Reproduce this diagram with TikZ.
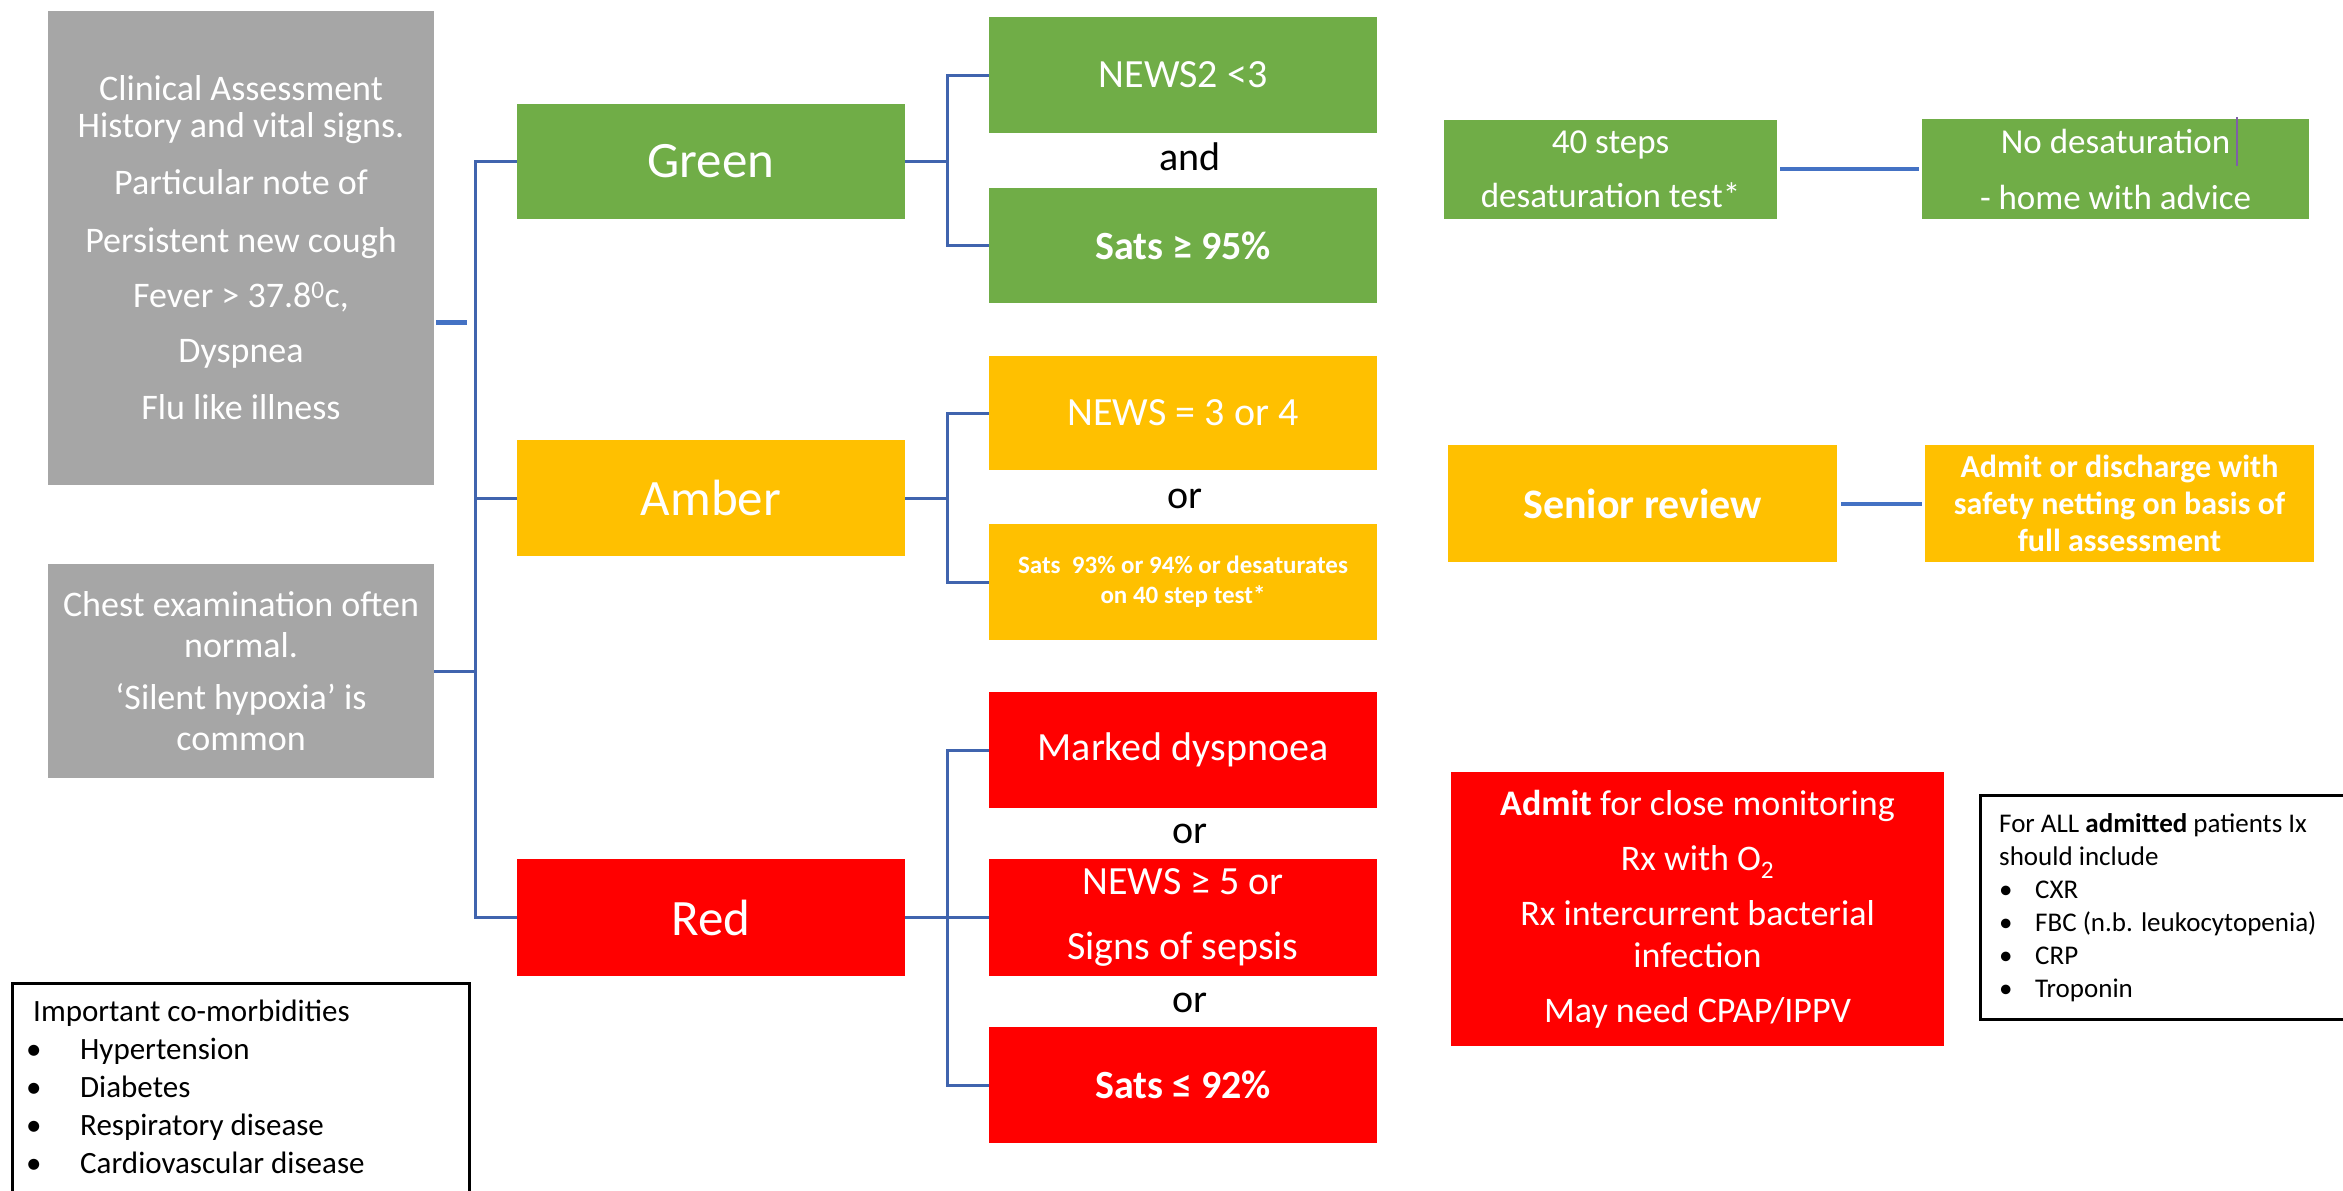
\documentclass[tikz,border=0pt]{standalone}
\usepackage{fontspec}
\setmainfont{Carlito}
\usetikzlibrary{calc}
\definecolor{cgreen}{HTML}{70AD47}
\definecolor{camber}{HTML}{FFC000}
\definecolor{cred}{HTML}{FF0000}
\definecolor{cgray}{HTML}{A6A6A6}
\definecolor{cblue}{HTML}{4472C4}
\definecolor{ctrunk}{HTML}{4064AE}
\definecolor{ccursor}{HTML}{7F5FA8}
\newcommand{\setfs}[2]{\fontsize{#1}{#2}\selectfont}
\begin{document}
\begin{tikzpicture}[x=1pt,y=-1pt,
  box/.style={rectangle, inner sep=0pt, text=white, align=center},
  wide/.style={minimum width=388pt},
  conn/.style={draw=ctrunk, line width=3pt},
  thickconn/.style={draw=cblue, line width=4pt},
  word/.style={inner sep=0pt, text=black, font=\setfs{40}{48}},
  framebox/.style={draw=black, line width=3pt, inner sep=0pt}
]
\useasboundingbox (0,0) rectangle (2343,1191);

% left grey boxes
\node[box, fill=cgray, minimum width=386pt, minimum height=474pt, font=\setfs{36}{37}] (g1) at (241,248)
 {Clinical Assessment\\History and vital signs.\\[20pt]Particular note of\\[21pt]Persistent new cough\\[18pt]Fever > 37.8\textsuperscript{0}c,\\[18pt]Dyspnea\\[20pt]Flu like illness};
\node[box, fill=cgray, minimum width=386pt, minimum height=214pt, font=\setfs{36}{41}] (g2) at (241,671)
 {Chest examination often\\normal.\\[11pt]‘Silent hypoxia’ is\\common};

% categories
\node[box, wide, fill=cgreen, minimum height=115pt, font=\setfs{51}{60}] (green) at (711,161.5) {Green};
\node[box, wide, fill=camber, minimum height=116pt, font=\setfs{51}{60}] (amber) at (711,498) {Amber};
\node[box, wide, fill=cred, minimum height=117pt, font=\setfs{51}{60}] (red) at (711,917.5) {Red};

% criteria
\node[box, wide, fill=cgreen, minimum height=116pt, font=\setfs{40}{48}] (news2) at (1183,75) {NEWS2 <3};
\node[word] (and) at (1190,157) {and};
\node[box, wide, fill=cgreen, minimum height=115pt, font=\bfseries\setfs{40}{48}] (sats95) at (1183,245.5) {Sats ≥ 95\%};

\node[box, wide, fill=camber, minimum height=114pt, font=\setfs{40}{48}] (news34) at (1183,413) {NEWS = 3 or 4};
\node[word] (or1) at (1185,499) {or};
\node[box, wide, fill=camber, minimum height=116pt, font=\bfseries\setfs{25}{30}] (sats93) at (1183,582) {Sats\ \ 93\% or 94\% or desaturates\\on 40 step test*};

\node[box, wide, fill=cred, minimum height=116pt, font=\setfs{40}{48}] (dysp) at (1183,750) {Marked dyspnoea};
\node[word] (or2) at (1190,834) {or};
\node[box, wide, fill=cred, minimum height=117pt, font=\setfs{40}{40}] (news5) at (1183,917.5) {NEWS ≥ 5 or\\[25pt]Signs of sepsis};
\node[word] (or3) at (1190,1003) {or};
\node[box, wide, fill=cred, minimum height=116pt, font=\bfseries\setfs{40}{48}] (sats92) at (1183,1085) {Sats ≤ 92\%};

% outcomes
\node[box, fill=cgreen, minimum width=333pt, minimum height=99pt, font=\setfs{35}{36}] (steps) at (1610.5,169) {40 steps\\[18pt]desaturation test*};
\node[box, fill=cgreen, minimum width=387pt, minimum height=100pt, font=\setfs{35}{36}] (nodesat) at (2115.5,169) {No desaturation\\[20pt]- home with advice};
\node[box, fill=camber, minimum width=389pt, minimum height=117pt, font=\bfseries\setfs{42}{50}] (senior) at (1642.5,503.5) {Senior review};
\node[box, fill=camber, minimum width=389pt, minimum height=117pt, font=\bfseries\setfs{32}{37}] (admdis) at (2119.5,503.5) {Admit or discharge with\\safety netting on basis of\\full assessment};
\node[box, fill=cred, minimum width=493pt, minimum height=274pt, font=\setfs{36}{42}] (admit) at (1697.5,909)
 {\textbf{Admit} for close monitoring\\[13pt]Rx with O\textsubscript{2}\\[13pt]Rx intercurrent bacterial\\infection\\[13pt]May need CPAP/IPPV};

% information boxes
\node[framebox, anchor=north west, minimum width=380pt, minimum height=224pt] (ixbox) at (1979,794) {};
\node[anchor=north west, inner sep=0pt, align=left, font=\setfs{27}{33}] (ixtext) at (1999,813)
 {For ALL \textbf{admitted} patients Ix\\should include\\\makebox[36pt][l]{•}CXR\\\makebox[36pt][l]{•}FBC (n.b. leukocytopenia)\\\makebox[36pt][l]{•}CRP\\\makebox[36pt][l]{•}Troponin};

\node[framebox, anchor=north west, minimum width=457pt, minimum height=230pt] (cobox) at (11,982) {};
\node[anchor=north west, inner sep=0pt, align=left, font=\setfs{31}{38}] (cotext) at (33,1000)
 {Important co-morbidities\\\makebox[47pt][l]{\hspace*{-7pt}•}Hypertension\\\makebox[47pt][l]{\hspace*{-7pt}•}Diabetes\\\makebox[47pt][l]{\hspace*{-7pt}•}Respiratory disease\\\makebox[47pt][l]{\hspace*{-7pt}•}Cardiovascular disease};

% connectors: left trunk
\draw[conn] (green.west) -- ++(-41,0) coordinate (tg) |- (red.west);
\draw[conn] (amber.west) -- (amber.west -| tg);
\draw[conn] (g2.east) -- (g2.east -| tg);
\draw[draw=cblue, line width=5pt] ($(g1.east)+(2,74)$) -- ++(31,0);

% fans to criteria
\draw[conn] (green.east) -- ++(43,0);
\draw[conn] (news2.west) -- ++(-41,0) |- (sats95.west);
\draw[conn] (amber.east) -- ++(43,0);
\draw[conn] (news34.west) -- ++(-41,0) |- (sats93.west);
\draw[conn] (red.east) -- (news5.west);
\draw[conn] (dysp.west) -- ++(-41,0) |- (sats92.west);

% outcome links
\draw[thickconn] ($(steps.east)+(3,0)$) -- ($(nodesat.west)+(-3,0)$);
\draw[thickconn] ($(senior.east)+(4,0)$) -- ($(admdis.west)+(-3,0)$);

% text cursor mark
\draw[draw=ccursor, line width=2pt] (2237,117) -- (2237,166);
\end{tikzpicture}
\end{document}
